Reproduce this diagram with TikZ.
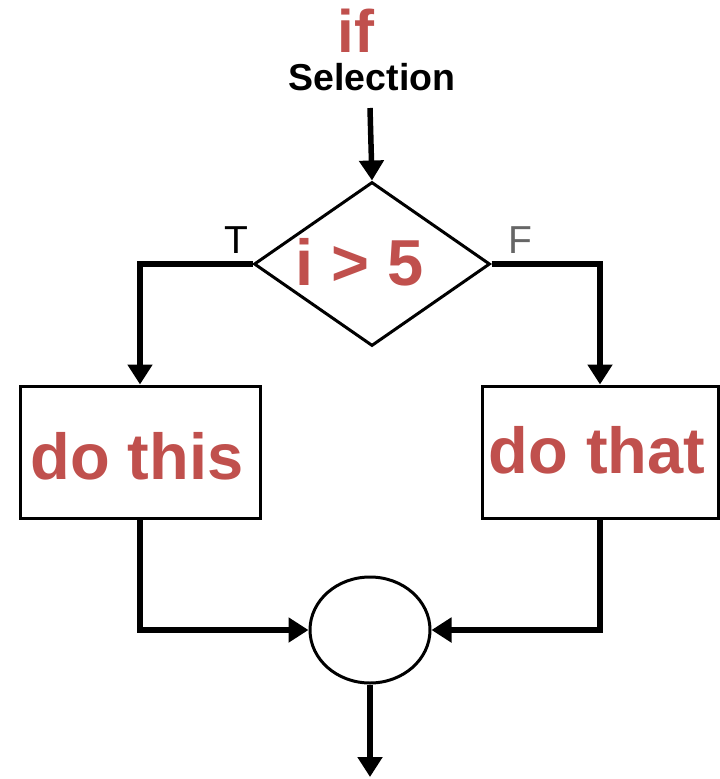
\documentclass[tikz,border=0pt]{standalone}
\usepackage{fontspec}
\setmainfont{Liberation Sans}
\usetikzlibrary{shapes.geometric,arrows.meta}
\definecolor{kred}{HTML}{C0504D}
\begin{document}
\begin{tikzpicture}[x=1pt,y=-1pt,
  conn/.style={line width=5.5pt,-{Triangle[width=24pt,length=20pt]}},
  big/.style={text=kred,font=\fontsize{65}{70}\selectfont\bfseries,inner sep=0pt,anchor=base},
  box/.style={draw,line width=3pt,minimum width=240pt,minimum height=132pt,inner sep=0pt},
  small/.style={font=\fontsize{39}{44}\selectfont,inner sep=0pt,anchor=base}]
\useasboundingbox (0,0) rectangle (720,779);
\node[big,font=\fontsize{60}{66}\selectfont\bfseries] (iftxt) at (356,52) {if};
\node[font=\fontsize{37.5}{44}\selectfont\bfseries,inner sep=0pt,anchor=base] (sel) at (372,90) {Selection};
\coordinate (start) at (370,108);
\node[diamond,draw,line width=3pt,minimum width=236pt,minimum height=164pt,inner sep=0pt] (dec) at (372,264) {};
\node[big] (cond) at (360,285) {i > 5};
\node[small] (T) at (236,253) {T};
\node[small,text=black!60] (F) at (520,253) {F};
\node[box] (left) at (140,452) {};
\node[big] (lt) at (137,479) {do this};
\node[box,minimum width=236pt] (right) at (600,452) {};
\node[big] (rt) at (597,473) {do that};
\node[ellipse,draw,line width=3pt,minimum width=120pt,minimum height=106pt,inner sep=0pt] (merge) at (370,630) {};
\coordinate (end) at (370,777);
\draw[conn] (start) -- (dec.north);
\draw[conn] (dec.west) -| (left.north);
\draw[conn] (dec.east) -| (right.north);
\draw[conn] (left.south) |- (merge.west);
\draw[conn] (right.south) |- (merge.east);
\draw[conn] (merge.south) -- (end);
\end{tikzpicture}
\end{document}
